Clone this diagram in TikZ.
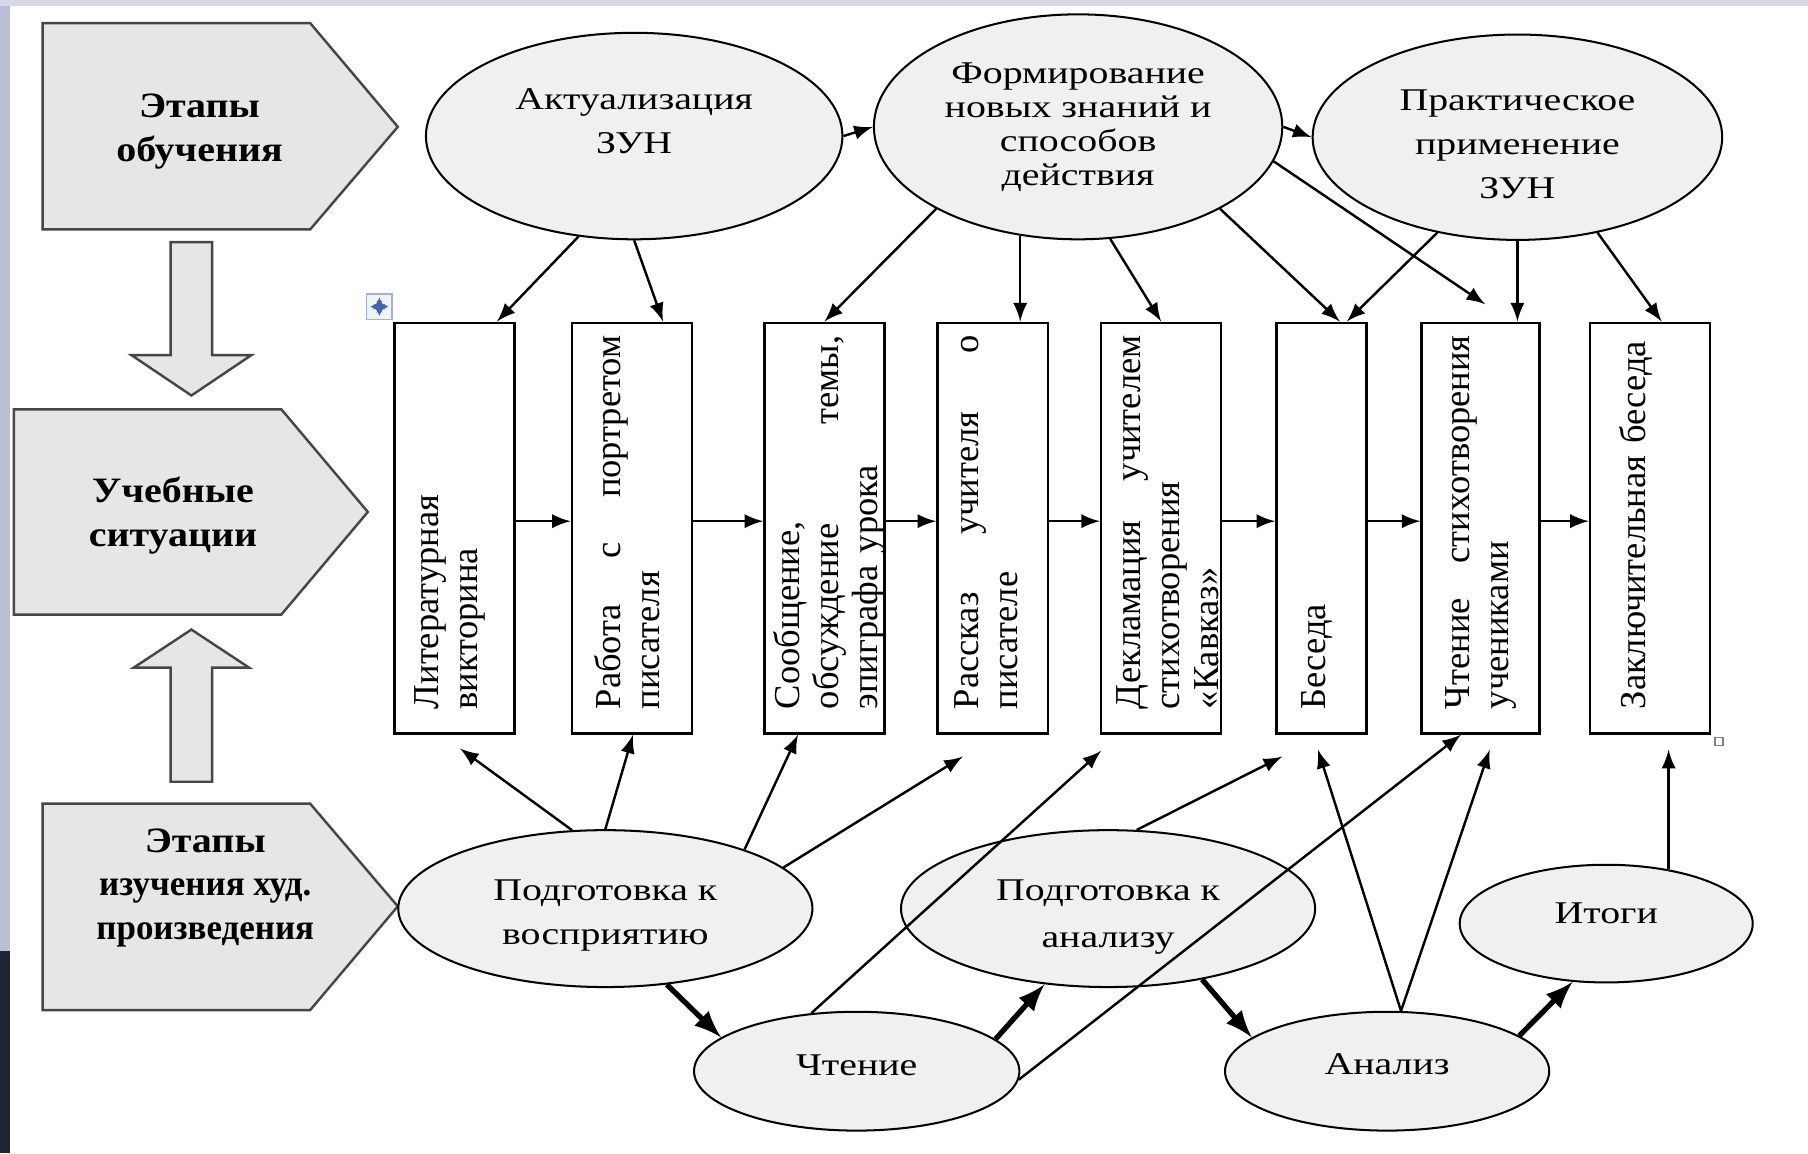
\documentclass[tikz,border=0pt]{standalone}
\usepackage{fontspec}
\setmainfont{Liberation Serif}
\newfontfamily\ovalfont{Liberation Serif}[FakeStretch=1.26]
\newfontfamily\stagefont{Liberation Serif}[FakeStretch=1.12]
\newfontfamily\stagenarrow{Liberation Serif}[FakeStretch=0.98]
\usepackage{tikz}
\usetikzlibrary{calc}
\usetikzlibrary{positioning}
\usetikzlibrary{arrows}
\usetikzlibrary{shapes}
\definecolor{stagegray}{RGB}{230,230,230}
\definecolor{ovalgray}{RGB}{240,240,240}
\definecolor{edgegray}{RGB}{70,70,70}
\definecolor{photoblue}{RGB}{185,190,215}
\definecolor{photodark}{RGB}{30,36,50}
\definecolor{handleblue}{RGB}{70,100,170}

\begin{document}
\begin{tikzpicture}[x=0.01cm, y=-0.01cm, >=latex,
  stage/.style={draw=edgegray, fill=stagegray, line width=0.6pt},
  stagetxt/.style={align=center, font=\stagefont\bfseries\fontsize{8.8}{10.8}\selectfont},
  oval/.style={ellipse, draw, fill=ovalgray, line width=0.5pt, inner sep=0pt},
  ovaltxt/.style={align=center, inner sep=0pt, font=\ovalfont\fontsize{7.8}{10.8}\selectfont},
  sit/.style={draw, fill=white, line width=0.6pt, minimum height=3.56cm, inner sep=0pt},
  sittxt/.style={rotate=90, text width=3.24cm, align=left, inner sep=0pt, font=\fontsize{9}{9.6}\selectfont},
  link/.style={->, line width=0.6pt},
  flow/.style={->, line width=1.3pt}]

\fill[white] (0,0) rectangle (1568,1000);
\useasboundingbox (0,0) rectangle (1568,1000);
\fill[photoblue] (0,0) rectangle (9,825);
\fill[photodark] (0,825) rectangle (9,1000);
\fill[photoblue!60] (0,0) rectangle (1568,5);

\draw[stage] (37,20) -- (269,20) -- (345,110) -- (269,199) -- (37,199) -- cycle;
\draw[stage] (12,355) -- (244,355) -- (319,444) -- (244,533) -- (12,533) -- cycle;
\draw[stage] (37,697) -- (269,697) -- (345,786) -- (269,876) -- (37,876) -- cycle;
\draw[stage] (148,210) -- (184,210) -- (184,308) -- (218,308) -- (166,343) -- (114,308) -- (148,308) -- cycle;
\draw[stage] (148,678) -- (184,678) -- (184,579) -- (216,579) -- (166,546) -- (116,579) -- (148,579) -- cycle;

\node[stagetxt] (stage1) at (173,114) {Этапы\\обучения};
\node[stagetxt] (stage2) at (150,447) {Учебные\\ситуации};
\node[stagetxt] (stage3) at (178,770) {Этапы\\{\stagenarrow\bfseries изучения худ.}\\{\stagenarrow\bfseries произведения}};

\node[oval, minimum width=3.61cm, minimum height=1.79cm] (aktual) at (550,118) {};
\node[oval, minimum width=3.54cm, minimum height=1.95cm] (form) at (935,110) {};
\node[oval, minimum width=3.55cm, minimum height=1.78cm] (prakt) at (1316,119) {};
\node[oval, minimum width=3.59cm, minimum height=1.36cm] (podgv) at (525,788) {};
\node[oval, minimum width=2.82cm, minimum height=1.03cm] (chten) at (743,929) {};
\node[oval, minimum width=3.59cm, minimum height=1.36cm] (podga) at (961,788) {};
\node[oval, minimum width=2.81cm, minimum height=1.03cm] (analiz) at (1203,929) {};
\node[oval, minimum width=2.54cm, minimum height=1.02cm] (itogi) at (1393,801) {};

\node[ovaltxt] (aktualtxt) at (550,105) {Актуализация\\ЗУН};
\node[ovaltxt, font=\ovalfont\fontsize{7.8}{8.4}\selectfont] (formtxt) at (935,110) {Формирование\\новых знаний и\\способов\\действия};
\node[ovaltxt] (prakttxt) at (1316,125) {Практическое\\применение\\ЗУН};
\node[ovaltxt] (podgvtxt) at (525,794) {Подготовка к\\восприятию};
\node[ovaltxt] (chtentxt) at (743,924) {Чтение};
\node[ovaltxt, font=\ovalfont\fontsize{7.8}{11.6}\selectfont] (podgatxt) at (961,795) {Подготовка к\\анализу};
\node[ovaltxt] (analiztxt) at (1203,923) {Анализ};
\node[ovaltxt] (itogitxt) at (1393,792) {Итоги};

\node[sit, minimum width=1.04cm] (b1) at (394,458) {};
\node[sit, minimum width=1.04cm] (b2) at (548,458) {};
\node[sit, minimum width=1.04cm] (b3) at (715,458) {};
\node[sit, minimum width=0.96cm] (b4) at (861,458) {};
\node[sit, minimum width=1.04cm] (b5) at (1007,458) {};
\node[sit, minimum width=0.78cm] (b6) at (1146,458) {};
\node[sit, minimum width=1.02cm] (b7) at (1284,458) {};
\node[sit, minimum width=1.04cm] (b8) at (1431,458) {};

\node[sittxt] (t1) at ($(b1)+(-4,-5)$) {Литературная\\викторина};
\node[sittxt] (t2) at ($(b2)+(-4,-5)$) {Работа\hfill с\hfill портретом\\писателя};
\node[sittxt] (t3) at ($(b3)+(4,-5)$) {Сообщение,\\обсуждение\hfill темы,\\эпиграфа урока};
\node[sittxt] (t4) at ($(b4)+(-6,-5)$) {Рассказ\hfill учителя\hfill о\\писателе};
\node[sittxt] (t5) at ($(b5)+(6,-5)$) {Декламация\hfill учителем\\стихотворения\\«Кавказ»};
\node[sittxt] (t6) at ($(b6)+(-4,-5)$) {Беседа};
\node[sittxt] (t7) at ($(b7)+(0,-5)$) {Чтение\hfill стихотворения\\учениками};
\node[sittxt] (t8) at ($(b8)+(-12,-5)$) {\mbox{Заключительная беседа}};

\node[draw=handleblue!50, fill=handleblue!8, minimum size=0.22cm, inner sep=0pt] (movehandle) at (329,266) {};
\draw[handleblue, <->, >=stealth, line width=0.3pt] ($(movehandle.west)+(4,0)$) -- ($(movehandle.east)+(-4,0)$);
\draw[handleblue, <->, >=stealth, line width=0.3pt] ($(movehandle.north)+(0,4)$) -- ($(movehandle.south)+(0,-4)$);
\node[draw=gray, fill=white, minimum size=0.07cm, inner sep=0pt] (sizehandle) at (1491,643) {};

\draw[link] (aktual.east) -- (form.west);
\draw[link] (form.east) -- (prakt.west);

\draw[link] (aktual.241) -- ($(b1.north)+(37,0)$);
\draw[link] (aktual.south) -- ($(b2.north)+(27,0)$);
\draw[link] (form.210) -- (b3.north);
\draw[link] (form.242) -- (form.242 |- b4.north);
\draw[link] (form.286) -- (b5.north);
\draw[link] (form.330) -- ($(b6.north)+(16,0)$);
\coordinate (formend) at ($(b7.north)+(4,-15)$);
\draw[link] (form.350) -- (formend);
\draw[link] (prakt.230) -- ($(b6.north)+(22,0)$);
\draw[link] (prakt.south) -- (prakt.south |- b7.north);
\draw[link] (prakt.310) -- ($(b8.north)+(10,0)$);

\foreach \a/\b in {b1/b2,b2/b3,b3/b4,b4/b5,b5/b6,b6/b7,b7/b8}
  \draw[link] ($(\a.east)+(0,-6)$) -- ($(\b.west)+(0,-6)$);

\coordinate (v1end) at ($(b1.south)+(5,12)$);
\coordinate (v4end) at ($(b4.south)+(-26,19)$);
\coordinate (c5end) at ($(b5.south)+(-52,14)$);
\coordinate (a6end) at ($(b6.south)+(-34,19)$);
\coordinate (n6end) at ($(b6.south)+(-3,13)$);
\coordinate (n7end) at ($(b7.south)+(8,13)$);
\coordinate (i8end) at ($(b8.south)+(15,13)$);
\draw[link] (podgv.113) -- (v1end);
\draw[link] (podgv.north) -- ($(b2.south)+(1,0)$);
\draw[link] (podgv.23) -- ($(b3.south)+(-23,0)$);
\draw[link] (podgv.13) -- (v4end);
\draw[link] (chten.128) -- (c5end);
\draw[link] (chten.357) -- ($(b7.south)+(-17,0)$);
\draw[link] (podga.70) -- (a6end);
\draw[link] (analiz.77) -- (n6end);
\draw[link] (analiz.77) -- (n7end);
\draw[link] (itogi.41) -- (itogi.41 |- i8end);

\draw[flow] (podgv.309) -- (chten.166);
\draw[flow] (chten.13) -- (podga.230);
\draw[flow] (podga.323) -- (analiz.166);
\draw[flow] (analiz.15) -- (itogi.240);
\end{tikzpicture}
\end{document}
